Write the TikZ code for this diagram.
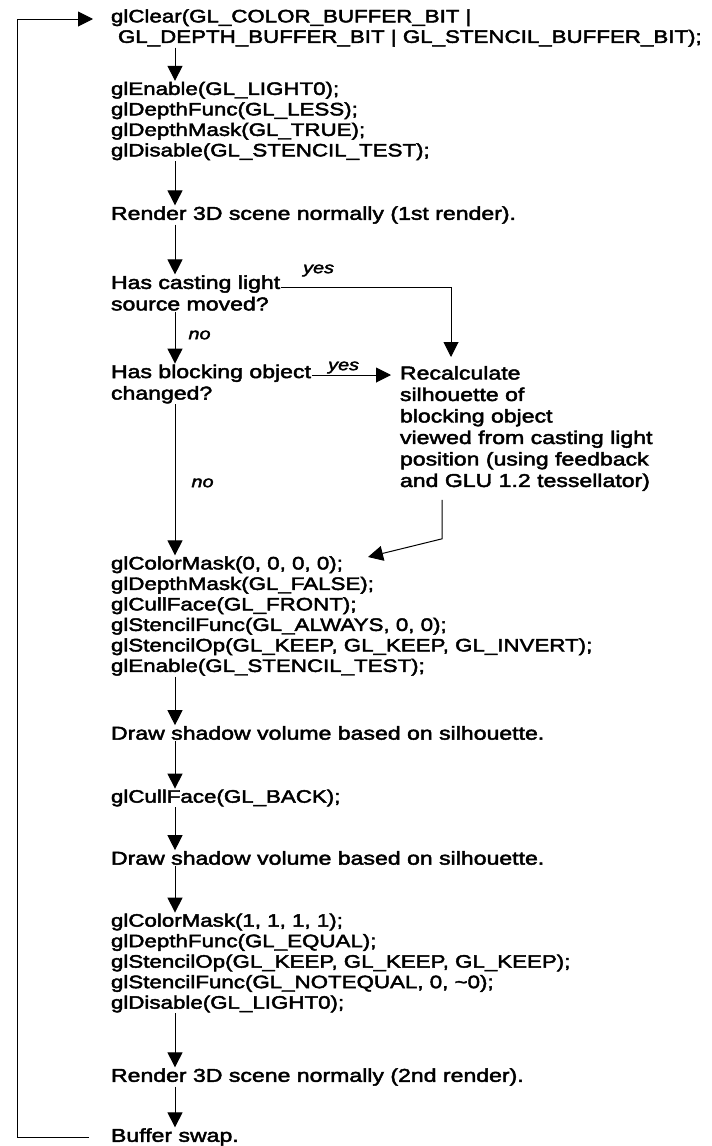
\documentclass[tikz,border=0pt]{standalone}
\usepackage{fontspec}
\setmainfont{Liberation Sans}[FakeStretch=1.24, FakeBold=2.5]
\usepackage{tikz}
\usetikzlibrary{arrows.meta,positioning}
\newcommand{\codefont}{\fontsize{18}{20.5}\selectfont}
\newcommand{\prosefont}{\fontsize{18.6}{21.5}\selectfont}
\newcommand{\lblfont}{\fontsize{16}{16}\selectfont\itshape}
\tikzset{%
	code/.style  = {anchor=west, inner sep=0pt, outer sep=1pt, align=left, font=\codefont}, % GL calls
	prose/.style = {anchor=west, inner sep=0pt, outer sep=1pt, align=left, font=\prosefont}, % Steps
	lbl/.style   = {font=\lblfont, inner sep=0pt}, % yes / no
	flow/.style  = {-{Triangle[length=15pt,width=15pt]}, line width=1pt},
}

\begin{document}
\begin{tikzpicture}[x=1pt, y=1pt]
	\useasboundingbox (0,0) rectangle (712,-1146);
	\coordinate (spine) at (175,0);
	\coordinate (loopx) at (17,0);
	\coordinate (cmtip) at (368,-557);
	\node[code] (clear) at (110,-28) {glClear(GL\_COLOR\_BUFFER\_BIT |\\\hspace*{7pt}GL\_DEPTH\_BUFFER\_BIT | GL\_STENCIL\_BUFFER\_BIT);};
	\node[code] (enable) at (110,-121) {glEnable(GL\_LIGHT0);\\glDepthFunc(GL\_LESS);\\glDepthMask(GL\_TRUE);\\glDisable(GL\_STENCIL\_TEST);};
	\node[prose] (render1) at (110,-215) {Render 3D scene normally (1st render).};
	\node[prose] (cast) at (110,-293) {Has casting light\\source moved?};
	\node[prose] (block) at (110,-384) {Has blocking object\\changed?};
	\node[prose, anchor=north west, outer sep=9pt] (recalc) at (391,-357) {Recalculate\\silhouette of\\blocking object\\viewed from casting light\\position (using feedback\\and GLU 1.2 tessellator)};
	\node[code] (colormask) at (110,-616) {glColorMask(0, 0, 0, 0);\\glDepthMask(GL\_FALSE);\\glCullFace(GL\_FRONT);\\glStencilFunc(GL\_ALWAYS, 0, 0);\\glStencilOp(GL\_KEEP, GL\_KEEP, GL\_INVERT);\\glEnable(GL\_STENCIL\_TEST);};
	\node[prose] (shadow1) at (110,-733) {Draw shadow volume based on silhouette.};
	\node[code] (cullback) at (110,-798) {glCullFace(GL\_BACK);};
	\node[prose] (shadow2) at (110,-858) {Draw shadow volume based on silhouette.};
	\node[code] (colormask2) at (110,-963) {glColorMask(1, 1, 1, 1);\\glDepthFunc(GL\_EQUAL);\\glStencilOp(GL\_KEEP, GL\_KEEP, GL\_KEEP);\\glStencilFunc(GL\_NOTEQUAL, 0, \textasciitilde0);\\glDisable(GL\_LIGHT0);};
	\node[prose] (render2) at (110,-1077) {Render 3D scene normally (2nd render).};
	\node[prose] (swap) at (110,-1137) {Buffer swap.};
	% main flow
	\draw[flow] (clear.south -| spine) -- (enable.north -| spine);
	\draw[flow] (enable.south -| spine) -- (render1.north -| spine);
	\draw[flow] (render1.south -| spine) -- (cast.north -| spine);
	\draw[flow] (cast.south -| spine) -- node[lbl, right=13pt, pos=0.45] {no} (block.north -| spine);
	\draw[flow] (block.south -| spine) -- node[lbl, right=16pt, pos=0.52] {no} (colormask.north -| spine);
	\draw[flow] (colormask.south -| spine) -- (shadow1.north -| spine);
	\draw[flow] (shadow1.south -| spine) -- (cullback.north -| spine);
	\draw[flow] (cullback.south -| spine) -- (shadow2.north -| spine);
	\draw[flow] (shadow2.south -| spine) -- (colormask2.north -| spine);
	\draw[flow] (colormask2.south -| spine) -- (render2.north -| spine);
	\draw[flow] (render2.south -| spine) -- (swap.north -| spine);
	% recalculation branch
	\draw[flow] ([yshift=6pt]cast.east) -| node[lbl, pos=0.11, above=10pt] {yes} ([xshift=60pt]recalc.north west);
	\draw[flow] ([yshift=9pt]block.east) -- node[lbl, pos=0.4, above=1pt] {yes} ([yshift=9pt]block.east -| recalc.west);
	\draw[flow] ([xshift=51pt]recalc.south west) -- ++(0,-39) -- (cmtip);
	% back to the top
	\draw[flow] ([xshift=-21pt]swap.west) -- (swap.west -| loopx) |- ([xshift=-17pt,yshift=9pt]clear.west);
\end{tikzpicture}
\end{document}
